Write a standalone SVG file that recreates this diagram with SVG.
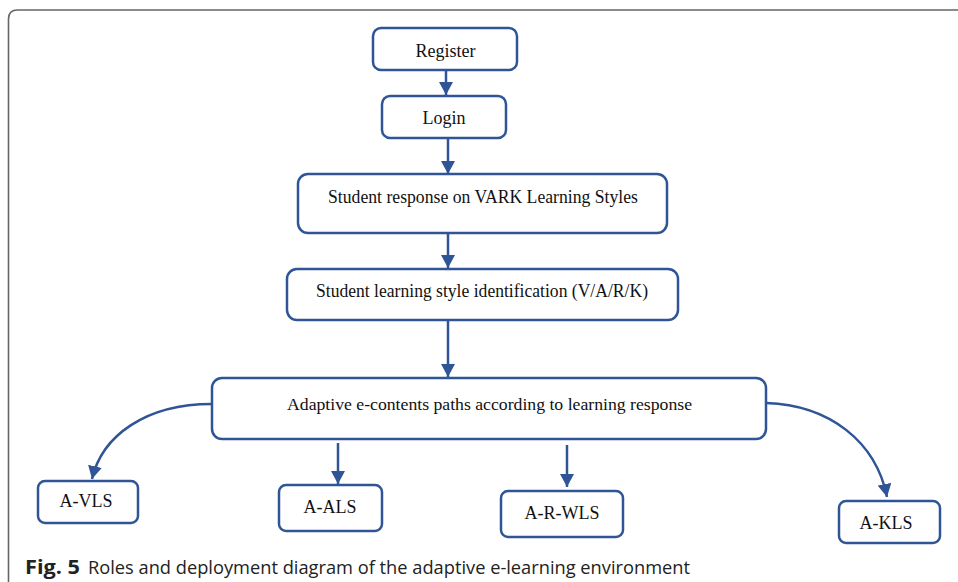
<svg xmlns="http://www.w3.org/2000/svg" width="958" height="582" viewBox="0 0 958 582">
<defs>
<marker id="ah" markerUnits="userSpaceOnUse" markerWidth="14" markerHeight="14" viewBox="0 0 14 14" refX="13" refY="7" orient="auto">
<path d="M0,0 L13,7 L0,14 Z" fill="#2f5597"/>
</marker>
<style>
.box{fill:#fff;stroke:#2f5597;stroke-width:2.5}
.t{font-family:"Liberation Serif","Times New Roman",serif;font-size:18px;fill:#111;text-anchor:middle}
.c{fill:none;stroke:#2f5597;stroke-width:2.5;marker-end:url(#ah)}
.cap{font-family:"Open Sans","Noto Sans",sans-serif;font-size:19px;fill:#222}
</style>
</defs>
<rect width="958" height="582" fill="#fff"/>
<path d="M8.5,590 L8.5,19 Q8.5,10 17.5,10 L958,10" fill="none" stroke="#666" stroke-width="1.6"/>

<g id="connectors">
<path class="c" d="M446,70 L446,95"/>
<path class="c" d="M448,138 L448,174"/>
<path class="c" d="M448,233 L448,268"/>
<path class="c" d="M448,320 L448,377"/>
<path class="c" d="M212,404 C145,404 102,436 92,479"/>
<path class="c" d="M338,443 L338,484"/>
<path class="c" d="M567,445 L567,487"/>
<path class="c" d="M766,403 C830,405 876,442 887,497"/>
</g>

<g id="register">
<rect class="box" x="373" y="28" width="144" height="42" rx="8"/>
<text class="t" x="445.5" y="57">Register</text>
</g>
<g id="login">
<rect class="box" x="382" y="96" width="124" height="42" rx="8"/>
<text class="t" x="444" y="124">Login</text>
</g>
<g id="student-response">
<rect class="box" x="298" y="174" width="369" height="59" rx="10"/>
<text class="t" x="483" y="203" textLength="310" lengthAdjust="spacingAndGlyphs">Student response on VARK Learning Styles</text>
</g>
<g id="learning-style-identification">
<rect class="box" x="287" y="269" width="391" height="51" rx="10"/>
<text class="t" x="482" y="297" textLength="332" lengthAdjust="spacingAndGlyphs">Student learning style identification (V/A/R/K)</text>
</g>
<g id="adaptive-paths">
<rect class="box" x="212" y="378" width="554" height="61" rx="10"/>
<text class="t" x="489.5" y="410" style="font-size:16px" textLength="405" lengthAdjust="spacingAndGlyphs">Adaptive e-contents paths according to learning response</text>
</g>
<g id="a-vls">
<rect class="box" x="38" y="481" width="100" height="42" rx="7"/>
<text class="t" x="86" y="507">A-VLS</text>
</g>
<g id="a-als">
<rect class="box" x="279" y="485" width="103" height="46" rx="7"/>
<text class="t" x="330" y="513">A-ALS</text>
</g>
<g id="a-r-wls">
<rect class="box" x="501" y="491" width="122" height="46" rx="7"/>
<text class="t" x="562" y="519">A-R-WLS</text>
</g>
<g id="a-kls">
<rect class="box" x="839" y="501" width="101" height="42" rx="7"/>
<text class="t" x="886" y="529">A-KLS</text>
</g>

<text class="cap" x="25" y="574"><tspan font-weight="bold" textLength="55" lengthAdjust="spacingAndGlyphs">Fig. 5</tspan><tspan x="88" textLength="602" lengthAdjust="spacingAndGlyphs">Roles and deployment diagram of the adaptive e-learning environment</tspan></text>
</svg>
